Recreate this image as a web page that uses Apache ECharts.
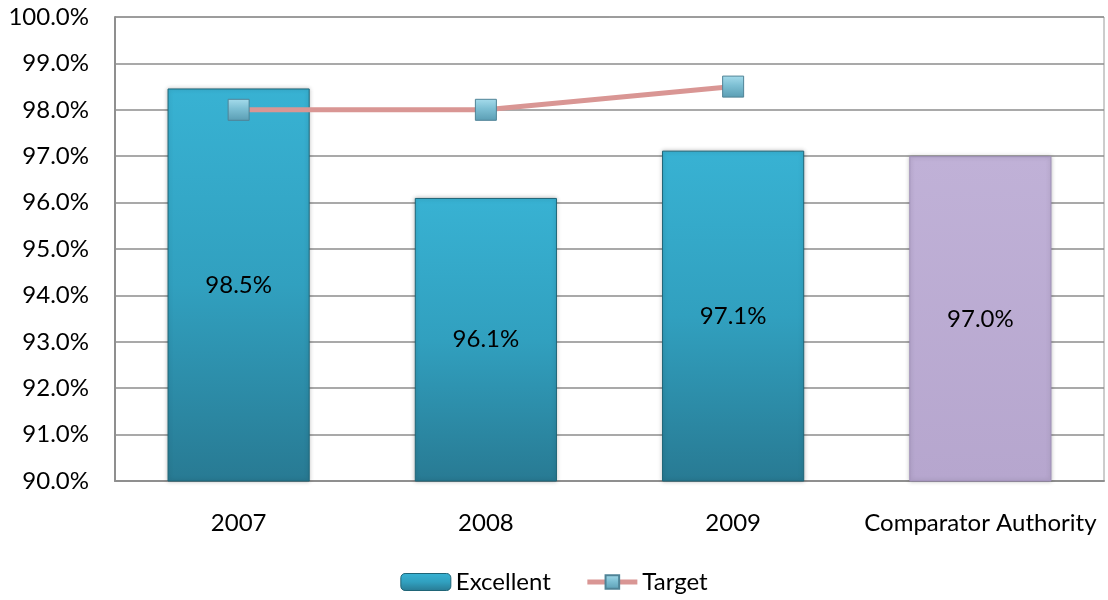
<!DOCTYPE html>
<html>
<head>
<meta charset="utf-8">
<script src="https://cdn.jsdelivr.net/npm/echarts@6/dist/echarts.min.js"></script>
<style>html,body{margin:0;padding:0;background:#fff}#c{width:1108px;height:600px}</style>
</head>
<body>
<div id="c"></div>
<script>
const categories = ['2007', '2008', '2009', 'Comparator Authority'];
const excellentValues = [98.46, 96.1, 97.12, 97.0];
const targetValues = [98.0, 98.0, 98.5, null];
const yTicks = { min: 90, max: 100, interval: 1 };

const FONT = 'Lato, "Open Sans", sans-serif';
const FS = 24;
const teal = new echarts.graphic.LinearGradient(0, 0, 0, 1, [
  { offset: 0, color: '#38b2d3' },
  { offset: 0.5, color: '#31a0bf' },
  { offset: 1, color: '#287a93' }
]);
const purple = new echarts.graphic.LinearGradient(0, 0, 0, 1, [
  { offset: 0, color: '#c0b1d7' },
  { offset: 1, color: '#b6a6ce' }
]);
const markerFill = new echarts.graphic.LinearGradient(0, 0, 0, 1, [
  { offset: 0, color: '#a6dcec' },
  { offset: 0.45, color: '#7dbfd3' },
  { offset: 1, color: '#5a9db3' }
]);

const chart = echarts.init(document.getElementById('c'), null, { renderer: 'canvas' });
chart.setOption({
  animation: false,
  backgroundColor: '#fff',
  grid: { left: 115, right: 4, top: 17, bottom: 119, show: true, borderColor: '#9a9a9a', borderWidth: 1 },
  legend: {
    bottom: 1, left: 'center', itemGap: 34, itemWidth: 50, itemHeight: 17,
    textStyle: { fontFamily: FONT, fontSize: FS, color: '#000' },
    data: [
      { name: 'Excellent', itemStyle: { color: teal, borderColor: '#1f6577', borderWidth: 1 } },
      { name: 'Target', lineStyle: { color: '#d99694', width: 5 } }
    ]
  },
  xAxis: {
    type: 'category', data: categories,
    axisLine: { lineStyle: { color: '#8f8f8f', width: 2 } },
    axisTick: { show: false },
    axisLabel: { fontFamily: FONT, fontSize: FS, color: '#000', margin: 30, interval: 0 }
  },
  yAxis: {
    type: 'value', min: yTicks.min, max: yTicks.max, interval: yTicks.interval,
    axisLine: { show: true, lineStyle: { color: '#8f8f8f', width: 2 } },
    axisTick: { show: false },
    splitLine: { lineStyle: { color: '#8c8c8c', width: 1.5 } },
    axisLabel: { fontFamily: FONT, fontSize: FS, color: '#000', margin: 26,
      formatter: v => v.toFixed(1) + '%' }
  },
  series: [
    {
      name: 'Excellent', type: 'bar', barWidth: '57.5%',
      data: excellentValues.map((v, i) => ({
        value: v,
        itemStyle: i === 3
          ? { color: purple, borderColor: '#9f8fb8', borderWidth: 1, shadowColor: 'rgba(0,0,0,0.25)', shadowBlur: 4 }
          : { color: teal, borderColor: '#1f6577', borderWidth: 1, shadowColor: 'rgba(0,0,0,0.25)', shadowBlur: 4 }
      })),
      label: {
        show: true, position: 'inside', fontFamily: FONT, fontSize: FS, color: '#000',
        formatter: p => p.value.toFixed(1) + '%'
      }
    },
    {
      name: 'Target', type: 'line', data: targetValues,
      symbol: 'rect', symbolSize: 21,
      lineStyle: { color: '#d99694', width: 5 },
      itemStyle: { color: markerFill, borderColor: '#4f8396', borderWidth: 1 },
      z: 5
    }
  ]
});
</script>
</body>
</html>
